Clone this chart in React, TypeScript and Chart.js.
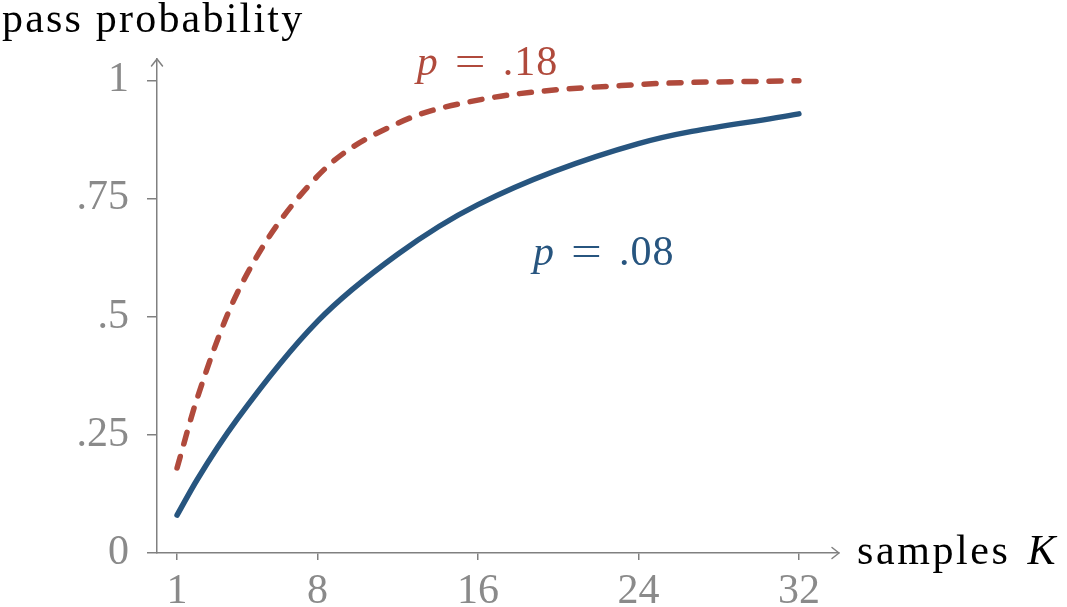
import React, { useEffect, useRef } from "react";
import { Chart, registerables } from "chart.js";

Chart.register(...registerables);

const samplesK = [1, 2, 4, 8, 12, 16, 24, 32];
const passP08 = [0.08, 0.155, 0.283, 0.49, 0.632, 0.737, 0.866, 0.929];
const passP18 = [0.18, 0.327, 0.55, 0.797, 0.909, 0.958, 0.991, 0.999];
const xTickValues = [1, 8, 16, 24, 32];
const xTickLabels = ["1", "8", "16", "24", "32"];
const yTickValues = [0, 0.25, 0.5, 0.75, 1];
const yTickLabels = ["0", ".25", ".5", ".75", "1"];
const seriesLabels = [".08", ".18"];
const labelAnchors = [
  { x: 18.75, y: 0.609 },
  { x: 12.95, y: 1.011 },
];

const BLUE = "#27557f";
const RED = "#b04a3c";
const GRAY = "#8a8a8a";
const AXIS = "#808080";
const FONT = "'Liberation Serif', 'Times New Roman', serif";

export default function App() {
  const ref = useRef<HTMLCanvasElement | null>(null);

  useEffect(() => {
    if (!ref.current) return;
    const overlay = {
      id: "overlay",
      afterDraw(chart: any) {
        const ctx = chart.ctx as CanvasRenderingContext2D;
        const { left, top, right, bottom } = chart.chartArea;
        const xs = chart.scales.x;
        const ys = chart.scales.y;
        ctx.save();
        // arrows
        ctx.strokeStyle = AXIS;
        ctx.lineWidth = 1.5;
        ctx.lineCap = "round";
        ctx.lineJoin = "round";
        ctx.beginPath();
        ctx.moveTo(left - 5.5, top + 7);
        ctx.lineTo(left, top);
        ctx.lineTo(left + 5.5, top + 7);
        ctx.stroke();
        ctx.beginPath();
        ctx.moveTo(right - 7, bottom - 5.5);
        ctx.lineTo(right, bottom);
        ctx.lineTo(right - 7, bottom + 5.5);
        ctx.stroke();
        // titles
        ctx.fillStyle = "#000";
        ctx.textBaseline = "alphabetic";
        ctx.textAlign = "left";
        ctx.font = `42px ${FONT}`;
        (ctx as any).letterSpacing = "2.2px";
        ctx.fillText("pass probability", 2, 32);
        (ctx as any).letterSpacing = "2.6px";
        ctx.fillText("samples", 857, 564);
        const sw = ctx.measureText("samples ").width;
        (ctx as any).letterSpacing = "0px";
        ctx.font = `italic 42px ${FONT}`;
        ctx.fillText("K", 857 + sw + 4, 564);
        // series labels
        const colors = [BLUE, RED];
        labelAnchors.forEach((a, i) => {
          const x0 = xs.getPixelForValue(a.x);
          const y0 = ys.getPixelForValue(a.y);
          ctx.fillStyle = colors[i];
          ctx.font = `italic 42px ${FONT}`;
          ctx.fillText("p", x0, y0);
          ctx.font = `42px ${FONT}`;
          ctx.save();
          ctx.scale(1.3, 1);
          ctx.fillText("=", (x0 + 38) / 1.3, y0);
          ctx.restore();
          (ctx as any).letterSpacing = "1px";
          ctx.fillText(seriesLabels[i], x0 + 86, y0);
          (ctx as any).letterSpacing = "0px";
        });
        ctx.restore();
      },
    };

    const chart = new Chart(ref.current, {
      type: "line",
      data: {
        labels: samplesK,
        datasets: [
          {
            data: samplesK.map((k, i) => ({ x: k, y: passP08[i] })),
            borderColor: BLUE,
            borderWidth: 5.5,
            pointRadius: 0,
            cubicInterpolationMode: "monotone",
            borderCapStyle: "round",
            fill: false,
          },
          {
            data: samplesK.map((k, i) => ({ x: k, y: passP18[i] })),
            borderColor: RED,
            borderWidth: 5.5,
            borderDash: [12, 13],
            pointRadius: 0,
            cubicInterpolationMode: "monotone",
            borderCapStyle: "round",
            fill: false,
          },
        ],
      },
      options: {
        animation: false,
        responsive: true,
        maintainAspectRatio: false,
        layout: { padding: { top: 59, right: 228, left: 0, bottom: 0 } },
        plugins: { legend: { display: false }, tooltip: { enabled: false } },
        scales: {
          x: {
            type: "linear",
            min: 0,
            max: 34,
            afterFit: (s: any) => {
              s.height = 54;
            },
            afterBuildTicks: (s: any) => {
              s.ticks = xTickValues.map((v) => ({ value: v }));
            },
            ticks: {
              color: GRAY,
              font: { family: FONT, size: 42 },
              padding: 7,
              maxRotation: 0,
              autoSkip: false,
              callback: (v: any) => {
                const i = xTickValues.indexOf(Number(v));
                return i >= 0 ? xTickLabels[i] : "";
              },
            },
            grid: {
              display: true,
              drawOnChartArea: false,
              drawTicks: true,
              tickLength: 7,
              color: AXIS,
              lineWidth: 1.5,
            },
            border: { display: true, color: AXIS, width: 1.5 },
          },
          y: {
            type: "linear",
            min: 0,
            max: 1.045,
            afterFit: (s: any) => {
              s.width = 157;
            },
            afterBuildTicks: (s: any) => {
              s.ticks = yTickValues.map((v) => ({ value: v }));
            },
            ticks: {
              color: GRAY,
              font: { family: FONT, size: 42 },
              padding: 18,
              autoSkip: false,
              callback: (v: any) => {
                const i = yTickValues.indexOf(Number(v));
                return i >= 0 ? yTickLabels[i] : "";
              },
            },
            grid: {
              display: true,
              drawOnChartArea: false,
              drawTicks: true,
              tickLength: 10,
              color: AXIS,
              lineWidth: 1.5,
            },
            border: { display: true, color: AXIS, width: 1.5 },
          },
        },
      },
      plugins: [overlay],
    } as any);
    return () => chart.destroy();
  }, []);

  return (
    <div style={{ position: "absolute", left: 0, top: 0, width: 1067, height: 607, background: "#fff" }}>
      <canvas ref={ref} />
    </div>
  );
}
